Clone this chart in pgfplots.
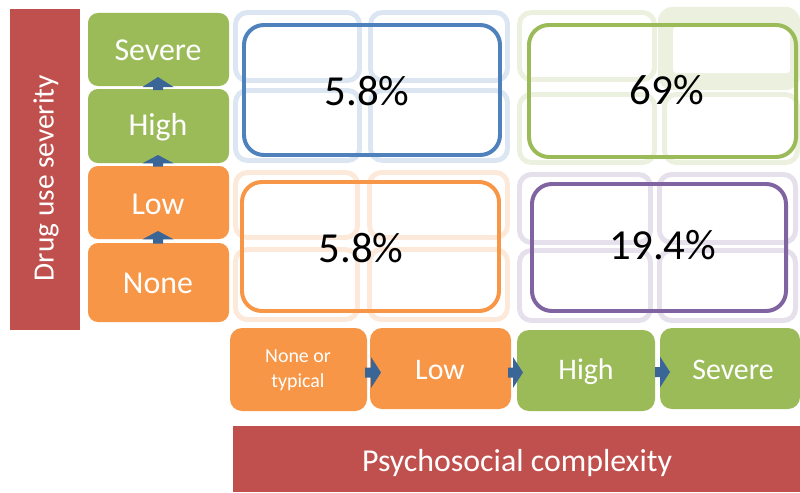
\documentclass[border=0pt]{standalone}
\usepackage{pgfplots}
\pgfplotsset{compat=1.18}
\usepackage{fontspec}
\setmainfont{Carlito}
\definecolor{cred}{HTML}{C0504D}
\definecolor{corange}{HTML}{F79646}
\definecolor{cgreen}{HTML}{9BBB59}
\definecolor{cblue}{HTML}{4F81BD}
\definecolor{cpurple}{HTML}{8064A2}
\definecolor{carrow}{HTML}{3A6597}
\definecolor{lblue}{HTML}{DCE6F2}
\definecolor{lgreen}{HTML}{EBF1DE}
\definecolor{lorange}{HTML}{FDE9D9}
\definecolor{lpurple}{HTML}{E5E0EC}
% rounded rectangle: [options]{x1}{y1}{x2}{y2}
\newcommand{\rr}[5]{%
  \pgfmathsetmacro\xm{(#2+#4)/2}%
  \addplot[#1] coordinates {(\xm,#3)(#4,#3)(#4,#5)(#2,#5)(#2,#3)(\xm,#3)};}
\begin{document}
\begin{tikzpicture}
\begin{axis}[scale only axis, width=800bp, height=492bp,
  xmin=0, xmax=800, ymin=0, ymax=492, y dir=reverse,
  hide axis, clip=false]
\addplot[draw=none] coordinates {(0,0)(800,492)};
% red bars
\addplot[fill=cred, draw=none] coordinates {(10,9)(80,9)(80,330)(10,330)};
\addplot[fill=cred, draw=none] coordinates {(233,426)(800,426)(800,492)(233,492)};
% faint boxes: blue
\rr{draw=lblue, line width=5pt, rounded corners=12pt}{235.5}{12.5}{359.5}{80.5}
\rr{draw=lblue, line width=5pt, rounded corners=12pt}{370.5}{12.5}{507.5}{80.5}
\rr{draw=lblue, line width=5pt, rounded corners=12pt}{235.5}{90.5}{359.5}{160.5}
\rr{draw=lblue, line width=5pt, rounded corners=12pt}{370.5}{90.5}{507.5}{160.5}
% faint green
\rr{draw=lgreen, line width=5pt, rounded corners=12pt}{519.5}{12.5}{654.5}{79.5}
\rr{fill=lgreen, draw=none, rounded corners=14pt}{658}{7}{800}{90}
\rr{fill=white, draw=none, rounded corners=3pt}{673}{27}{790}{73}
\rr{draw=lgreen, line width=5pt, rounded corners=12pt}{519.5}{94.5}{654.5}{162.5}
\rr{draw=lgreen, line width=5pt, rounded corners=12pt}{664.5}{94.5}{797.5}{162.5}
% faint orange
\rr{draw=lorange, line width=5pt, rounded corners=12pt}{235.5}{172.5}{357.5}{237.5}
\rr{draw=lorange, line width=5pt, rounded corners=12pt}{369.5}{172.5}{507.5}{237.5}
\rr{draw=lorange, line width=5pt, rounded corners=12pt}{235.5}{249.5}{357.5}{319.5}
\rr{draw=lorange, line width=5pt, rounded corners=12pt}{369.5}{249.5}{507.5}{319.5}
% faint purple
\rr{draw=lpurple, line width=5pt, rounded corners=12pt}{519.5}{174.5}{650.5}{242.5}
\rr{draw=lpurple, line width=5pt, rounded corners=12pt}{659.5}{174.5}{795.5}{242.5}
\rr{draw=lpurple, line width=5pt, rounded corners=12pt}{519.5}{250.5}{650.5}{320.5}
\rr{draw=lpurple, line width=5pt, rounded corners=12pt}{659.5}{250.5}{795.5}{320.5}
% main boxes
\rr{draw=cblue, line width=4pt, rounded corners=20pt}{244}{25}{500}{155}
\rr{draw=cgreen, line width=4pt, rounded corners=20pt}{529}{25}{796}{157}
\rr{draw=corange, line width=4pt, rounded corners=20pt}{242}{182}{499}{311}
\rr{draw=cpurple, line width=4pt, rounded corners=20pt}{532}{184}{786}{311}
% left category boxes
\rr{fill=cgreen, draw=none, rounded corners=10pt}{88}{13}{229}{86}
\rr{fill=cgreen, draw=none, rounded corners=10pt}{88}{89}{229}{163}
\rr{fill=corange, draw=none, rounded corners=10pt}{88}{166}{229}{239}
\rr{fill=corange, draw=none, rounded corners=10pt}{88}{243}{229}{322}
% bottom category boxes
\rr{fill=corange, draw=none, rounded corners=12pt}{230}{328}{367}{411}
\rr{fill=corange, draw=none, rounded corners=12pt}{370}{328}{511}{409}
\rr{fill=cgreen, draw=none, rounded corners=12pt}{517}{330}{655}{411}
\rr{fill=cgreen, draw=none, rounded corners=12pt}{660}{328}{800}{409}
% up arrows
\addplot[fill=carrow, draw=none] coordinates {(153,90)(153,87)(142.5,87)(158,77)(173.5,87)(163,87)(163,90)};
\addplot[fill=carrow, draw=none] coordinates {(153,166.5)(153,163.3)(142.5,163.3)(158,155)(173.5,163.3)(163,163.3)(163,166.5)};
\addplot[fill=carrow, draw=none] coordinates {(153,243.5)(153,239.3)(142.5,239.3)(158,231)(173.5,239.3)(163,239.3)(163,243.5)};
% right arrows
\addplot[fill=carrow, draw=none] coordinates {(365,367.5)(371,367.5)(371,357)(381,372.5)(371,388)(371,377.5)(365,377.5)};
\addplot[fill=carrow, draw=none] coordinates {(508,367.5)(513,367.5)(513,357)(523,372.5)(513,388)(513,377.5)(508,377.5)};
\addplot[fill=carrow, draw=none] coordinates {(655,367)(660,367)(660,356.5)(670,372)(660,387.5)(660,377)(655,377)};
% texts
\node[text=white, rotate=90, font=\fontsize{29.5}{29.5}\selectfont] at (axis cs:46,178) {Drug use severity};
\node[text=white, font=\fontsize{32}{32}\selectfont] at (axis cs:517,463) {Psychosocial complexity};
\node[text=white, font=\fontsize{32}{32}\selectfont] at (axis cs:158,50) {Severe};
\node[text=white, font=\fontsize{32}{32}\selectfont] at (axis cs:158,127) {High};
\node[text=white, font=\fontsize{32}{32}\selectfont] at (axis cs:158,204) {Low};
\node[text=white, font=\fontsize{32}{32}\selectfont] at (axis cs:158,283) {None};
\node[text=white, align=center, font=\fontsize{20}{25}\selectfont] at (axis cs:298,370) {None or\\typical};
\node[text=white, font=\fontsize{30}{30}\selectfont] at (axis cs:440,370) {Low};
\node[text=white, font=\fontsize{30}{30}\selectfont] at (axis cs:586,372) {High};
\node[text=white, font=\fontsize{30}{30}\selectfont] at (axis cs:733,370) {Severe};
\node[text=black, font=\fontsize{43}{43}\selectfont] at (axis cs:367,91) {5.8\%};
\node[text=black, font=\fontsize{43}{43}\selectfont] at (axis cs:667,90) {69\%};
\node[text=black, font=\fontsize{43}{43}\selectfont] at (axis cs:361,248) {5.8\%};
\node[text=black, font=\fontsize{43}{43}\selectfont] at (axis cs:663,245) {19.4\%};
\end{axis}
\end{tikzpicture}
\end{document}
